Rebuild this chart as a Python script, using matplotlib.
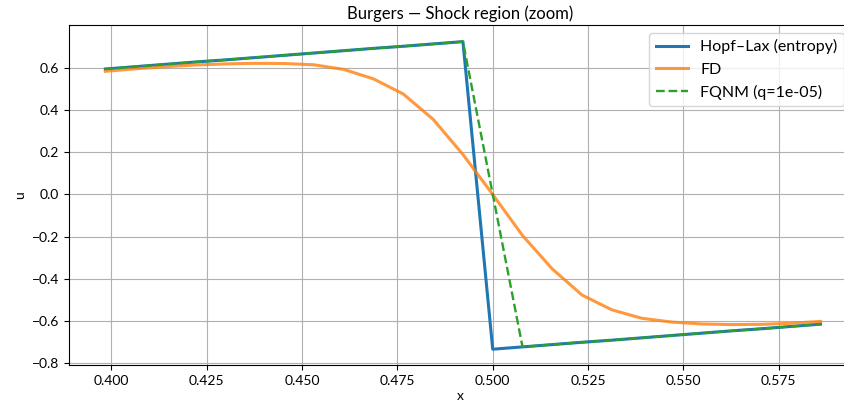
import matplotlib

matplotlib.use("Agg")
import matplotlib.pyplot as plt

# grid points i/128, i = 51..75
x = [i / 128 for i in range(51, 76)]

hopf_lax = [0.596, 0.607, 0.618, 0.629, 0.639, 0.650, 0.661, 0.672, 0.683,
            0.694, 0.704, 0.715, 0.726, -0.735, -0.724, -0.713, -0.702,
            -0.692, -0.681, -0.670, -0.659, -0.648, -0.638, -0.627, -0.616]

fd = [0.585, 0.597, 0.607, 0.615, 0.620, 0.623, 0.622, 0.616, 0.594,
      0.549, 0.477, 0.357, 0.190, 0.0, -0.195, -0.354, -0.478, -0.548,
      -0.588, -0.606, -0.615, -0.618, -0.617, -0.612, -0.603]

fqnm = [0.596, 0.607, 0.618, 0.629, 0.639, 0.650, 0.661, 0.672, 0.683,
        0.694, 0.704, 0.715, 0.726, 0.001, -0.724, -0.713, -0.702,
        -0.692, -0.681, -0.670, -0.659, -0.648, -0.638, -0.627, -0.616]

plt.rcParams["font.family"] = ["Lato", "DejaVu Sans"]

fig = plt.figure(figsize=(8.45, 4.03), dpi=100)
ax = fig.add_axes([69 / 845, 38 / 403, 783 / 845, 340 / 403])

ax.plot(x, hopf_lax, color="#1f77b4", lw=2.2, label="Hopf\u2013Lax (entropy)")
ax.plot(x, fd, color="#ff7f0e", lw=2.2, alpha=0.8, label="FD")
ax.plot(x, fqnm, color="#2ca02c", lw=1.7, ls="--", label="FQNM (q=1e-05)")

ax.set_xticks([0.400, 0.425, 0.450, 0.475, 0.500, 0.525, 0.550, 0.575])
ax.set_yticks([-0.8, -0.6, -0.4, -0.2, 0.0, 0.2, 0.4, 0.6])
ax.set_xlim(0.3889, 0.5942)
ax.set_ylim(-0.81, 0.805)
ax.grid(True)
ax.tick_params(labelsize=10)
ax.set_xlabel("x", fontsize=10, labelpad=2)
ax.set_ylabel("u", fontsize=10)
ax.set_title("Burgers \u2014 Shock region (zoom)", fontsize=12, pad=4)
ax.legend(loc="upper right", fontsize=11.5, handlelength=2.0)

fig.savefig("out.png", dpi=100)
